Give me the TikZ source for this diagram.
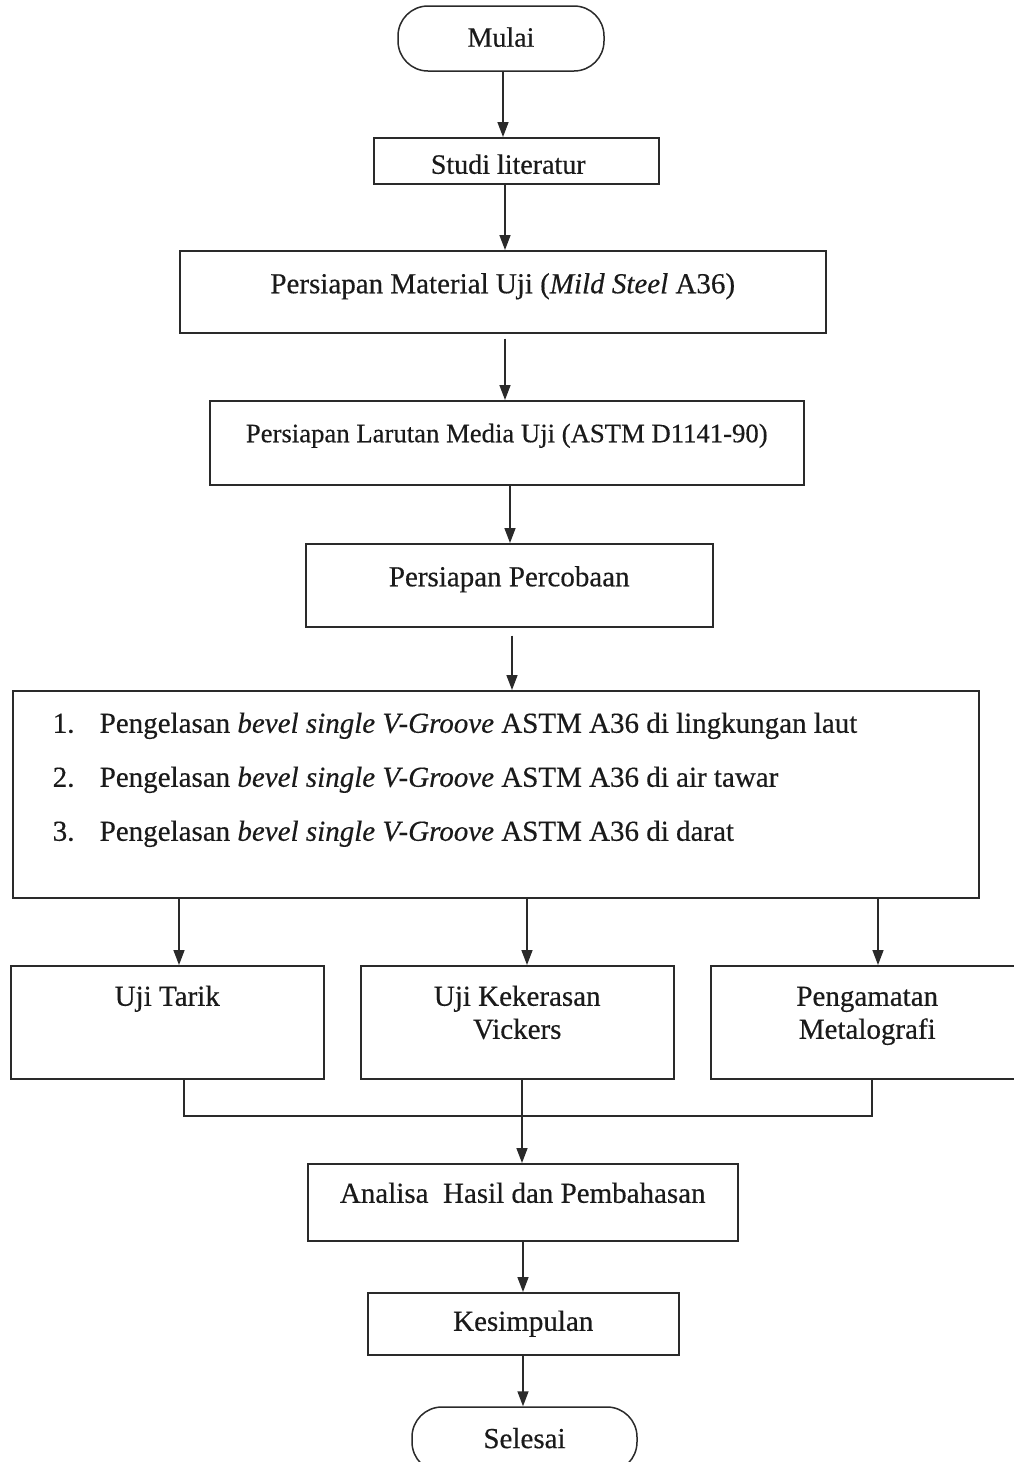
\documentclass[tikz,border=0pt]{standalone}
\usepackage{fontspec}
\setmainfont{Liberation Serif}[FakeBold=0.4]
\usetikzlibrary{arrows.meta}
\definecolor{ink}{HTML}{2A2A2A}
\definecolor{txt}{HTML}{1A1A1A}
% box content: width, height, baseline offset from top, font size, text
\newcommand\bx[5]{\parbox[c][#2pt][t]{#1pt}{\fontsize{#4}{33}\selectfont\centering\rule{0pt}{#3pt}#5\par}}
\newcommand\itm[1]{\hspace*{40pt}\makebox[47pt][l]{#1}}
\tikzset{
  box/.style={draw=ink, line width=1.5pt, inner sep=0pt, anchor=north west, text=txt},
  term/.style={draw=ink, line width=1.5pt, inner sep=0pt, rounded corners=30pt, text=txt, font=\fontsize{28}{34}\selectfont},
  conn/.style={draw=ink, line width=1.5pt},
  arr/.style={conn, -{Triangle[length=15pt,width=11pt]}}
}
\begin{document}
\begin{tikzpicture}[x=1pt,y=-1pt]
\useasboundingbox[fill=white] (0,0) rectangle (1014,1462);
\begin{scope}
\clip (0,0) rectangle (1014,1462);
\node[term, minimum width=206pt, minimum height=65pt, text depth=3pt] (mulai) at (501,38.5) {Mulai};
\node[box] (studi) at (373,137) {\bx{285}{46}{36}{28}{Studi literatur\hspace*{16pt}}};
\node[box] (material) at (179,250) {\bx{646}{82}{42.5}{29}{Persiapan Material Uji (\textit{Mild Steel} A36)}};
\node[box] (larutan) at (209,400) {\bx{594}{84}{41.5}{26.7}{Persiapan Larutan Media Uji (ASTM D1141-90)}};
\node[box] (percobaan) at (305,543) {\bx{407}{83}{42.5}{29}{Persiapan Percobaan}};
\node[box] (las) at (12,690) {\parbox[c][207pt][t]{966pt}{\fontsize{29}{54}\selectfont\raggedright\rule{0pt}{42pt}%
\itm{1.}Pengelasan \textit{bevel single V-Groove} ASTM A36 di lingkungan laut\\
\itm{2.}Pengelasan \textit{bevel single V-Groove} ASTM A36 di air tawar\\
\itm{3.}Pengelasan \textit{bevel single V-Groove} ASTM A36 di darat\par}};
\node[box] (tarik) at (10,965) {\bx{313}{113}{40}{29}{Uji Tarik}};
\node[box] (kekerasan) at (360,965) {\bx{313}{113}{40}{29}{Uji Kekerasan\\Vickers}};
\node[box] (metalo) at (710,965) {\bx{313}{113}{40}{29}{Pengamatan\\Metalografi}};
\node[box] (analisa) at (307,1163) {\bx{430}{77}{39}{29}{Analisa\ \ Hasil dan Pembahasan}};
\node[box] (kesimpulan) at (367,1292) {\bx{311}{62}{38}{29}{Kesimpulan}};
\node[term, minimum width=225pt, minimum height=65pt, font=\fontsize{29}{34}\selectfont, text depth=3pt] (selesai) at (524.5,1439.5) {Selesai};

\coordinate (jl) at (184,1116);
\coordinate (jm) at (522,1116);
\coordinate (jr) at (872,1116);

\draw[arr] (mulai.south -| 503,0) -- (studi.north -| 503,0);
\draw[arr] (studi.south -| 505,0) -- (material.north -| 505,0);
\draw[arr, shorten <=5pt] (material.south -| 505,0) -- (larutan.north -| 505,0);
\draw[arr] (larutan.south -| 510,0) -- (percobaan.north -| 510,0);
\draw[arr, shorten <=8pt] (percobaan.south -| 512,0) -- (las.north -| 512,0);
\draw[arr] (las.south -| 179,0) -- (tarik.north -| 179,0);
\draw[arr] (las.south -| 527,0) -- (kekerasan.north -| 527,0);
\draw[arr] (las.south -| 878,0) -- (metalo.north -| 878,0);
\draw[conn] (tarik.south -| jl) -- (jl) -- (jr) -- (metalo.south -| jr);
\draw[conn] (kekerasan.south -| jm) -- (jm);
\draw[arr] (jm) -- (analisa.north -| jm);
\draw[arr] (analisa.south -| 523,0) -- (kesimpulan.north -| 523,0);
\draw[arr] (kesimpulan.south -| 523,0) -- (selesai.north -| 523,0);
\end{scope}
\end{tikzpicture}
\end{document}
